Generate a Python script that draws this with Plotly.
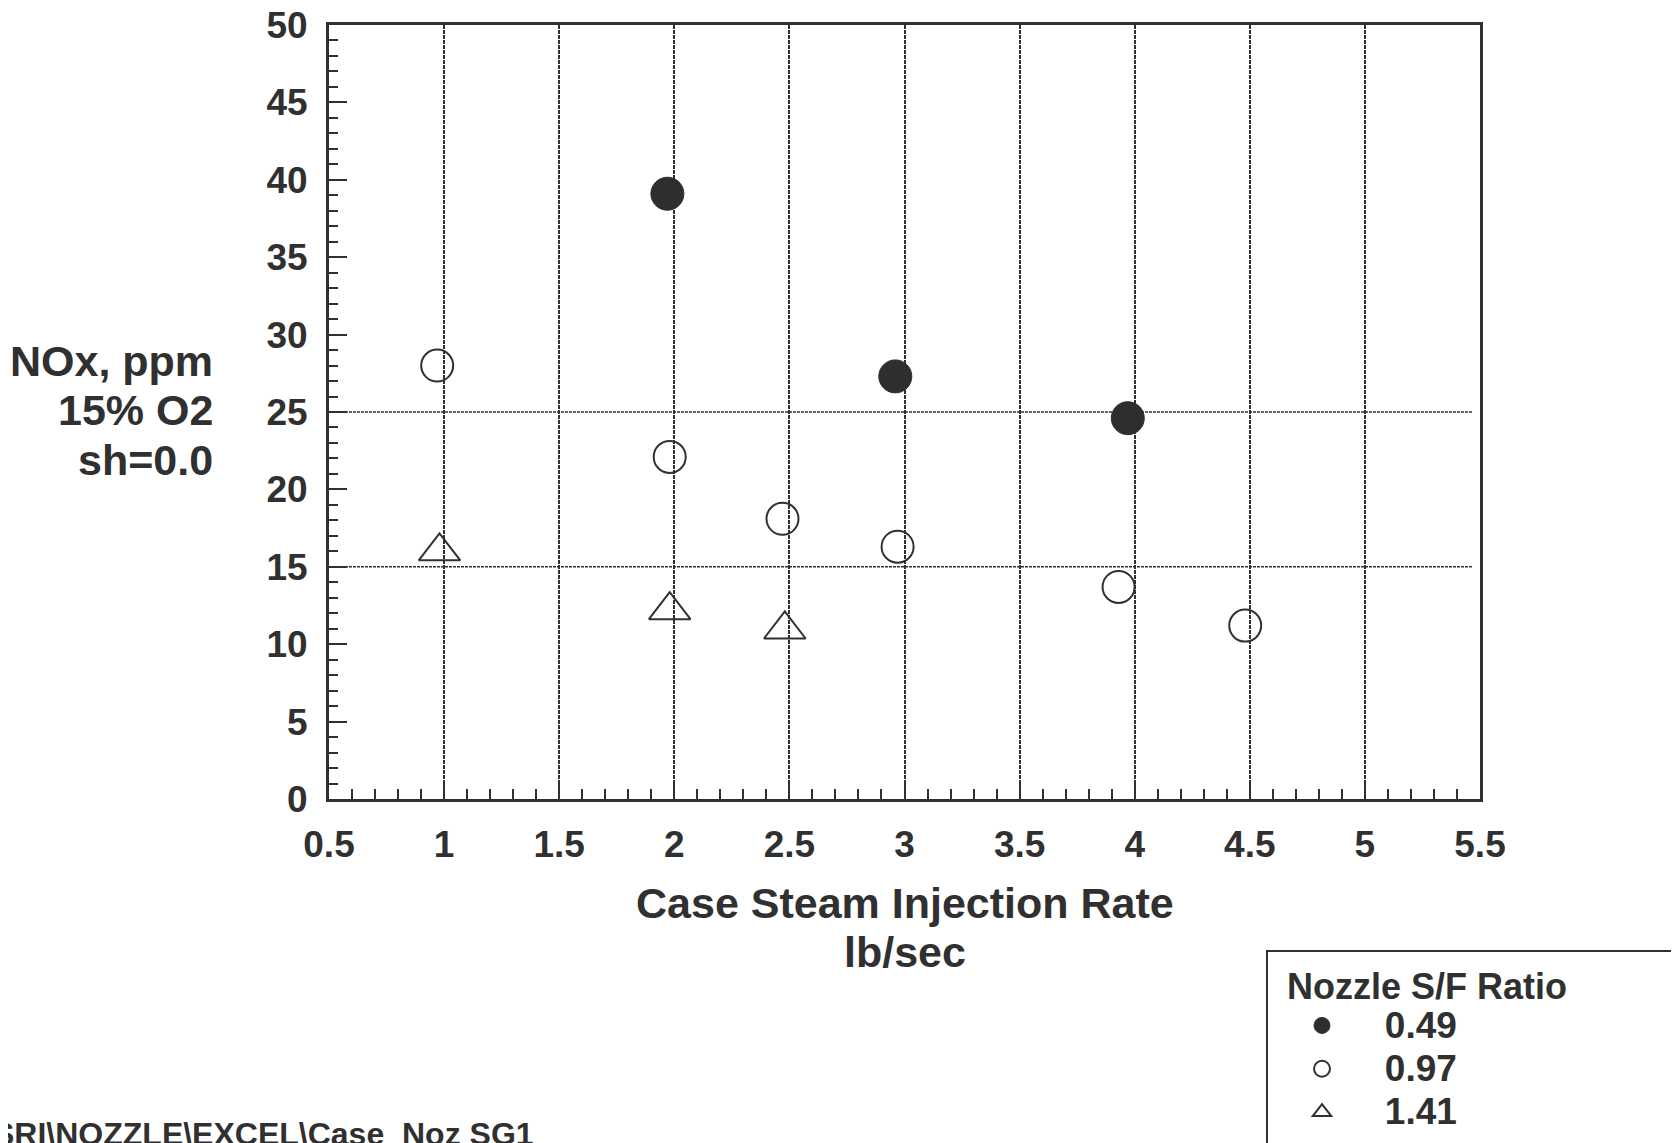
import plotly.graph_objects as go

# ---------------- data ----------------
series_names = ["0.49", "0.97", "1.41"]

x_049 = [1.97, 2.96, 3.97]
y_049 = [39.1, 27.3, 24.6]

x_097 = [0.97, 1.98, 2.47, 2.97, 3.93, 4.48]
y_097 = [28.0, 22.1, 18.1, 16.3, 13.7, 11.2]

x_141 = [0.98, 1.98, 2.48]
y_141 = [16.0, 12.2, 10.95]

x_tick_vals = [0.5, 1, 1.5, 2, 2.5, 3, 3.5, 4, 4.5, 5, 5.5]
x_tick_text = ["0.5", "1", "1.5", "2", "2.5", "3", "3.5", "4", "4.5", "5", "5.5"]
y_tick_vals = [0, 5, 10, 15, 20, 25, 30, 35, 40, 45, 50]
y_tick_text = ["0", "5", "10", "15", "20", "25", "30", "35", "40", "45", "50"]
h_grid_vals = [15, 25]

x_title_lines = ["Case Steam Injection Rate", "lb/sec"]
y_title_lines = ["NOx, ppm", "15% O2", "sh=0.0"]
legend_title = "Nozzle S/F Ratio"
footnote = "SRI\\NOZZLE\\EXCEL\\Case_Noz SG1"

# ---------------- layout geometry (page pixels, figure sits 8px in) ----------------
OFF = 8
W, H = 1679 - OFF, 1143 - OFF
L, R, T, B = 329 - OFF, 1480 - OFF, 25 - OFF, 799 - OFF
PW, PH = R - L, B - T

def px(xp):
    return (xp - OFF - L) / PW

def py(yp):
    return (B - (yp - OFF)) / PH

INK = "#303030"
FONT = "Liberation Sans, Arial, sans-serif"
LEG_PAD = "\u00a0\u00a0\u00a0"

def leg_label(s):
    return LEG_PAD + '<span style="font-size:37px">' + s + "</span>"

fig = go.Figure()

fig.add_trace(go.Scatter(
    x=x_049, y=y_049, mode="markers", name=leg_label(series_names[0]),
    marker=dict(symbol="circle", size=33, color="#2e2e2e",
                line=dict(color="#2e2e2e", width=1)),
))
fig.add_trace(go.Scatter(
    x=x_097, y=y_097, mode="markers", name=leg_label(series_names[1]),
    marker=dict(symbol="circle-open", size=32, color=INK,
                line=dict(color=INK, width=2)),
))
fig.add_trace(go.Scatter(
    x=x_141, y=y_141, mode="markers", name=leg_label(series_names[2]),
    marker=dict(symbol="triangle-up-open", size=36, color=INK,
                line=dict(color=INK, width=2)),
))

shapes = []
for v in h_grid_vals:
    shapes.append(dict(type="line", xref="x domain", yref="y",
                       x0=0, x1=0.993, y0=v, y1=v,
                       line=dict(color=INK, width=1.5, dash="3px,1px"),
                       layer="below"))
# legend frame (runs off the page like the original)
shapes.append(dict(type="rect", xref="paper", yref="paper",
                   x0=px(1267), x1=px(1720), y0=py(951), y1=py(1200),
                   line=dict(color=INK, width=2), fillcolor="rgba(0,0,0,0)"))

annotations = []
y_title_centers = [361, 410, 460]
for txt, yc in zip(y_title_lines, y_title_centers):
    annotations.append(dict(text=txt, xref="paper", yref="paper",
                            x=px(215), y=py(yc), xanchor="right", yanchor="middle",
                            showarrow=False, align="right",
                            font=dict(family=FONT, size=43, color=INK, weight="bold")))
x_title_centers = [903, 952]
for txt, yc in zip(x_title_lines, x_title_centers):
    annotations.append(dict(text=txt, xref="paper", yref="paper",
                            x=0.5, y=py(yc), xanchor="center", yanchor="middle",
                            showarrow=False,
                            font=dict(family=FONT, size=43, color=INK, weight="bold")))
annotations.append(dict(text=footnote, xref="paper", yref="paper",
                        x=px(-9), y=py(1134), xanchor="left", yanchor="middle",
                        showarrow=False,
                        font=dict(family=FONT, size=32, color=INK, weight="bold")))

fig.update_layout(
    width=W, height=H,
    margin=dict(l=L, r=W - R, t=T, b=H - B, autoexpand=False),
    paper_bgcolor="white", plot_bgcolor="white",
    font=dict(family=FONT, color=INK),
    showlegend=True,
    legend=dict(
        x=px(1285), y=py(952), xanchor="left", yanchor="top",
        title=dict(text=legend_title,
                   font=dict(family=FONT, size=36, color=INK, weight="bold")),
        font=dict(family=FONT, size=31, color=INK, weight="bold"),
        bgcolor="rgba(0,0,0,0)", borderwidth=0,
        itemwidth=64, tracegroupgap=2,
    ),
    shapes=shapes,
    annotations=annotations,
    xaxis=dict(
        range=[0.5, 5.5], tickmode="array", tickvals=x_tick_vals, ticktext=x_tick_text,
        ticks="inside", ticklen=15, tickwidth=2, tickcolor=INK,
        minor=dict(dtick=0.1, tick0=0.5, ticks="inside", ticklen=10, tickwidth=2,
                   tickcolor=INK, showgrid=False),
        showgrid=True, gridcolor=INK, gridwidth=1.5, griddash="4px,1px",
        showline=True, linewidth=3, linecolor=INK, mirror=True,
        zeroline=False, ticklabelstandoff=11, ticklabeloverflow="allow",
        tickfont=dict(family=FONT, size=37, color=INK, weight="bold"),
    ),
    yaxis=dict(
        range=[0, 50], tickmode="array", tickvals=y_tick_vals, ticktext=y_tick_text,
        ticks="inside", ticklen=18, tickwidth=2, tickcolor=INK,
        minor=dict(dtick=1, tick0=0, ticks="inside", ticklen=9, tickwidth=2,
                   tickcolor=INK, showgrid=False),
        showgrid=False,
        showline=True, linewidth=3, linecolor=INK, mirror=True,
        zeroline=False, ticklabelstandoff=11, ticklabeloverflow="allow",
        tickfont=dict(family=FONT, size=37, color=INK, weight="bold"),
    ),
)

fig.write_html("out.html")
